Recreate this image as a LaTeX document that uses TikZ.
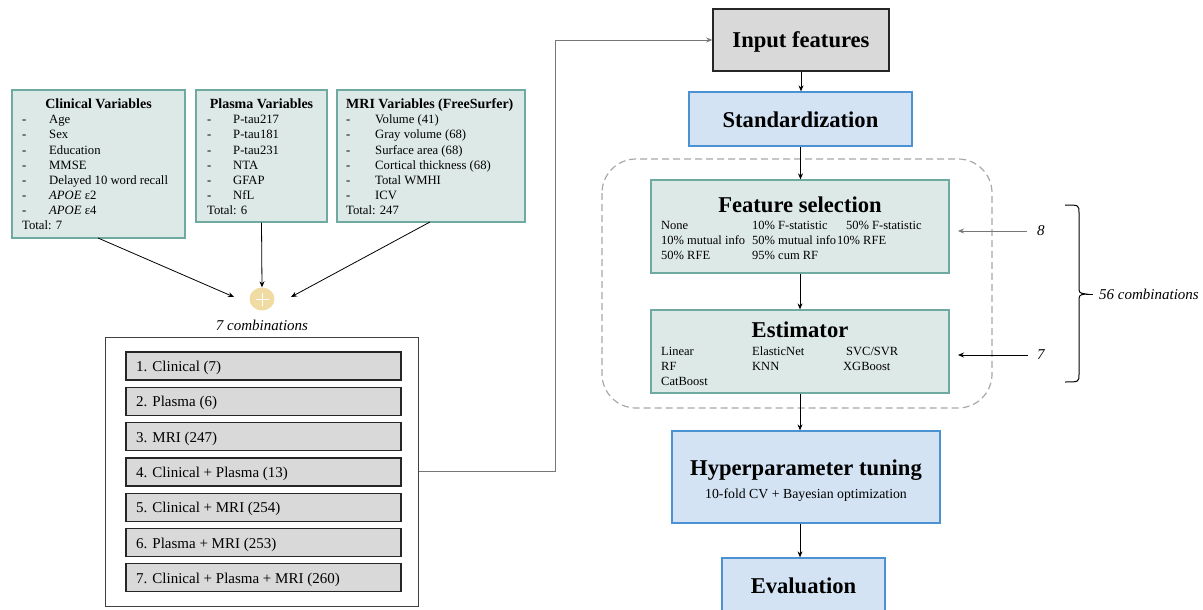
\documentclass[tikz,border=0pt]{standalone}
\usepackage{fontspec}
\setmainfont{Liberation Serif}
\usetikzlibrary{arrows.meta,calc,shapes.geometric}
\definecolor{tealfill}{HTML}{DDE9E7}
\definecolor{tealline}{HTML}{6FAAA2}
\definecolor{bluefill}{HTML}{D3E3F4}
\definecolor{blueline}{HTML}{4A92D3}
\definecolor{grayfill}{HTML}{D9D9D9}
\definecolor{plusfill}{HTML}{F0DBA2}
\definecolor{dashgray}{HTML}{A8A8A8}
\definecolor{linegray}{HTML}{777777}
\begin{document}
\begin{tikzpicture}[x=1pt,y=-1pt,
  tealbox/.style={draw=tealline, fill=tealfill, line width=1.3pt, inner sep=0},
  bluebox/.style={draw=blueline, fill=bluefill, line width=1.3pt, inner sep=0},
  graybox/.style={draw=black!85, fill=grayfill, line width=1.2pt, inner sep=0},
  lbl/.style={inner sep=0, anchor=base west, font=\fontsize{12.7}{14}\selectfont},
  sml/.style={inner sep=0, anchor=base west, font=\fontsize{12.5}{14}\selectfont},
  ttl/.style={inner sep=0, anchor=base, font=\bfseries\fontsize{14}{16}\selectfont},
  big/.style={inner sep=0, anchor=base, font=\bfseries\fontsize{22.6}{25}\selectfont},
  cmb/.style={inner sep=0, anchor=base west, font=\fontsize{15}{17}\selectfont},
  itl/.style={inner sep=0, anchor=base west, font=\itshape\fontsize{15}{17}\selectfont},
  arr/.style={-{Stealth[length=6pt,width=5pt]}, line width=0.8pt},
  garr/.style={-{Stealth[length=6pt,width=5pt]}, line width=0.8pt, draw=linegray},
]
\useasboundingbox (0,0) rectangle (1203,610);

% ---------- variable boxes ----------
\node[tealbox, minimum width=173, minimum height=148] (clin) at (98.5,164) {};
\node[ttl] (clint) at (98.5,109) {Clinical Variables};
\foreach \t [count=\i] in {Age,Sex,Education,MMSE,Delayed 10 word recall,\textit{APOE} ε2,\textit{APOE} ε4}{
  \node[lbl] (cd\i) at (22,{109+15*\i}) {-};
  \node[lbl] (ci\i) at (49,{109+15*\i}) {\t};
}
\node[lbl] (ctot) at (22,229) {Total: 7};

\node[tealbox, minimum width=131, minimum height=132] (plas) at (261.5,156) {};
\node[ttl] (plast) at (261.5,109) {Plasma Variables};
\foreach \t [count=\i] in {P-tau217,P-tau181,P-tau231,NTA,GFAP,NfL}{
  \node[lbl] (pd\i) at (207,{109+15*\i}) {-};
  \node[lbl] (pi\i) at (233,{109+15*\i}) {\t};
}
\node[lbl] (ptot) at (207,214) {Total: 6};

\node[tealbox, minimum width=188, minimum height=132] (mri) at (431,156) {};
\node[ttl, anchor=base west] (mrit) at (346,109) {MRI Variables (FreeSurfer)};
\foreach \t [count=\i] in {Volume (41),Gray volume (68),Surface area (68),Cortical thickness (68),Total WMHI,ICV}{
  \node[lbl] (md\i) at (346,{109+15*\i}) {-};
  \node[lbl] (mi\i) at (375,{109+15*\i}) {\t};
}
\node[lbl] (mtot) at (346,214) {Total: 247};

% ---------- plus ----------
\node[ellipse, fill=plusfill, minimum width=25, minimum height=23, inner sep=0] (plus) at (262,299) {};
\draw[white, line width=1pt] ($(plus.center)+(-6.5,0)$) -- ($(plus.center)+(6.5,0)$);
\draw[white, line width=1pt] ($(plus.center)+(0,-6.5)$) -- ($(plus.center)+(0,6.5)$);
\coordinate (c1) at (98,238);
\coordinate (c3) at (430,222);
\draw[arr] (c1) -- (234,297);
\draw[arr] (plas.south) -- (plus.north);
\draw[arr] (c3) -- (291,297);
\node[itl, anchor=base] (sevc) at (262,330) {7 combinations};

% ---------- combinations ----------
\node[draw=black!75, line width=1pt, minimum width=313, minimum height=269, inner sep=0] (combo) at (261.5,471.5) {};
\foreach \t [count=\i] in {1. Clinical (7),2. Plasma (6),3. MRI (247),4. Clinical + Plasma (13),5. Clinical + MRI (254),6. Plasma + MRI (253),7. Clinical + Plasma + MRI (260)}{
  \node[graybox, minimum width=275, minimum height=28] (cb\i) at (263.5,{366+35.3*(\i-1)}) {};
  \node[cmb] (ct\i) at (136,{366+35.3*(\i-1)+5.5}) {\t};
}

% ---------- right pipeline ----------
\node[graybox, line width=1.5pt, minimum width=176, minimum height=62] (input) at (801,40) {};
\node[big] (inputt) at (801,48) {Input features};

\node[bluebox, minimum width=223, minimum height=54] (std) at (800.5,119) {};
\node[big] (stdt) at (800.5,127) {Standardization};

\draw[dashgray, line width=1.2pt, dash pattern=on 7pt off 4pt, rounded corners=34pt] (602,159) rectangle (992,408);

\node[tealbox, minimum width=298, minimum height=93] (fs) at (800,226.5) {};
\node[big] (fst) at (800,212) {Feature selection};
\node[sml] (f1) at (661,229) {None};
\node[sml] (f2) at (752,229) {10\% F-statistic};
\node[sml] (f3) at (846,229) {50\% F-statistic};
\node[sml] (f4) at (661,244) {10\% mutual info};
\node[sml] (f5) at (752,244) {50\% mutual info};
\node[sml] (f6) at (837,244) {10\% RFE};
\node[sml] (f7) at (661,259) {50\% RFE};
\node[sml] (f8) at (752,259) {95\% cum RF};

\node[tealbox, minimum width=298, minimum height=83] (est) at (800,351.5) {};
\node[big] (estt) at (800,337) {Estimator};
\node[sml] (e1) at (661,355) {Linear};
\node[sml] (e2) at (752,355) {ElasticNet};
\node[sml] (e3) at (846,355) {SVC/SVR};
\node[sml] (e4) at (661,370) {RF};
\node[sml] (e5) at (752,370) {KNN};
\node[sml] (e6) at (843,370) {XGBoost};
\node[sml] (e7) at (661,385) {CatBoost};

\node[bluebox, minimum width=268, minimum height=92] (hyp) at (806,477) {};
\node[big] (hypt) at (806,475) {Hyperparameter tuning};
\node[inner sep=0, anchor=base, font=\fontsize{13.8}{15}\selectfont] (hyps) at (806,498) {10-fold CV + Bayesian optimization};

\node[bluebox, minimum width=163, minimum height=66] (eval) at (803.5,591) {};
\node[big] (evalt) at (803.5,593) {Evaluation};

% arrows in pipeline
\draw[arr] (input.south) -- (input.south |- std.north);
\draw[arr] (std.south) -- (std.south |- fs.north);
\draw[arr] (fs.south) -- (fs.south |- est.north);
\draw[arr] (est.south) -- (est.south |- hyp.north);
\draw[arr] (est.south |- hyp.south) -- (est.south |- eval.north);

% combo -> input
\draw[garr] (combo.east) -- (555,471.5) |- (input.west);

% counts
\node[itl] (n8) at (1037,235) {8};
\node[itl] (n7) at (1037,359) {7};
\coordinate (t8) at (958,231);
\coordinate (t7) at (958,355);
\draw[garr] (1027,231) -- (t8);
\draw[arr] (1028,355) -- (t7);

% brace
\draw[line width=1pt] (1065,205) .. controls (1079,205) .. (1079,213) -- (1079,286)
  .. controls (1079,293) .. (1086,294) .. controls (1079,295) .. (1079,302) -- (1079,374)
  .. controls (1079,382) .. (1065,382);
\draw[line width=1pt] (1086,294) -- (1093,294);
\node[itl] (c56) at (1099,299) {56 combinations};
\end{tikzpicture}
\end{document}
